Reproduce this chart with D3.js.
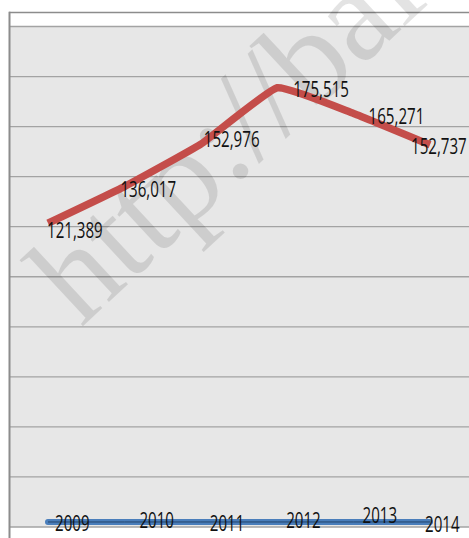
<!DOCTYPE html>
<html>
<head>
<meta charset="utf-8">
<script src="https://cdn.jsdelivr.net/npm/d3@7"></script>
<style>
html,body{margin:0;padding:0;background:#fff;}
svg{display:block;}
</style>
</head>
<body>
<svg id="chart" width="469" height="538"></svg>
<script>
// ---- data ----
const years = ["2009","2010","2011","2012","2013","2014"];
const valueSeries = [121389, 136017, 152976, 175515, 165271, 152737];
const yearSeries = [2009, 2010, 2011, 2012, 2013, 2014];
const gridTicks = [0,20000,40000,60000,80000,100000,120000,140000,160000,180000,200000];

// ---- layout (label nudges, px) ----
const valueLabelNudge = [[-1,7],[-4,3],[3,-5],[16,2],[15,3],[-19,2]];
const yearLabelNudge = [[7,1],[15,-2],[9,1],[9,-2],[9,-7],[-5,2]];

const svg = d3.select("#chart");
const W = 469, H = 538;
const plot = {left: 9.8, right: 468.2, top: 26.5, bottom: 527};

const x = d3.scalePoint().domain(years).range([plot.left, plot.right]).padding(0.5);
const y = d3.scaleLinear().domain([0, 200000]).range([plot.bottom, plot.top]);

// plot background
svg.append("rect").attr("x", plot.left).attr("y", plot.top)
  .attr("width", W - plot.left).attr("height", plot.bottom - plot.top)
  .attr("fill", "#e7e7e7");

// gridlines
svg.append("g").selectAll("line").data(gridTicks).join("line")
  .attr("x1", 9).attr("x2", W)
  .attr("y1", d => y(d)).attr("y2", d => y(d))
  .attr("stroke", "#a3a3a3").attr("stroke-width", 1.3);

// frame
svg.append("line").attr("x1", 9).attr("x2", W).attr("y1", 12.5).attr("y2", 12.5)
  .attr("stroke", "#8c8c8c").attr("stroke-width", 1.5);
svg.append("line").attr("x1", 9.5).attr("x2", 9.5).attr("y1", 11.8).attr("y2", H)
  .attr("stroke", "#8c8c8c").attr("stroke-width", 2);

// watermark
svg.append("text")
  .attr("transform", "translate(81,328) rotate(-43)")
  .attr("font-family", "'Liberation Serif','DejaVu Serif',serif")
  .attr("font-size", 132)
  .attr("fill", "#000").attr("fill-opacity", 0.11)
  .text("http://baidu.com");

// lines
const line = d3.line().x((d,i) => x(years[i])).y(d => y(d));
svg.append("path").datum(valueSeries)
  .attr("d", line.curve(d3.curveCardinal.tension(0.65)))
  .attr("fill", "none").attr("stroke", "#c44d4a").attr("stroke-width", 7.5)
  .attr("stroke-linejoin", "round");

const line2 = d3.line().x((d,i) => x(years[i])).y(d => y(d));
svg.append("path").datum(yearSeries)
  .attr("d", line2)
  .attr("fill", "none").attr("stroke", "#4a7ebb").attr("stroke-width", 6)
  .attr("stroke-linecap", "round");
svg.append("path").datum(yearSeries)
  .attr("d", line2)
  .attr("fill", "none").attr("stroke", "#24446b").attr("stroke-width", 1);

// labels
const fontFam = "'Open Sans','Lato',sans-serif";
const fmt = d3.format(",");
svg.append("g").selectAll("text").data(valueSeries).join("text")
  .attr("transform", (d,i) => `translate(${x(years[i]) + valueLabelNudge[i][0]},${y(d) + valueLabelNudge[i][1]}) scale(0.72,1)`)
  .attr("dy", "0.36em")
  .attr("font-family", fontFam).attr("font-size", 21).attr("fill", "#111")
  .text(d => fmt(d));

svg.append("g").selectAll("text").data(yearSeries).join("text")
  .attr("transform", (d,i) => `translate(${x(years[i]) + yearLabelNudge[i][0]},${y(d) + yearLabelNudge[i][1]}) scale(0.72,1)`)
  .attr("dy", "0.36em")
  .attr("font-family", fontFam).attr("font-size", 21).attr("fill", "#111")
  .text(d => d);
</script>
</body>
</html>
